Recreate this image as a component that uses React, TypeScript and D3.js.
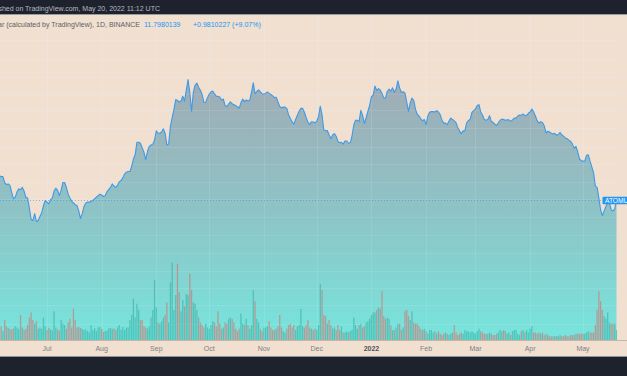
import React from 'react';
import * as d3 from 'd3';

// ---------- data ----------
const startDate = new Date(2021, 5, 3); // first daily bar (June 3, 2021)

const closes: number[] = [
  15.0, 15.2, 15.1, 15.1, 14.2, 13.9, 14.0, 13.8, 12.8, 12.0,
  12.2, 12.9, 13.3, 13.2, 13.5, 13.0, 12.2, 12.1, 10.9, 9.7,
  9.6, 10.3, 9.5, 9.6, 10.0, 10.4, 11.2, 11.8, 11.6, 11.4,
  11.9, 12.1, 13.0, 13.4, 13.1, 12.4, 13.1, 14.2, 14.2, 13.5,
  12.6, 12.1, 11.7, 11.5, 11.3, 11.2, 10.6, 9.8, 10.3, 11.1,
  11.5, 11.6, 11.6, 11.7, 11.8, 12.0, 12.2, 12.4, 12.6, 12.5,
  12.3, 12.4, 12.9, 13.2, 13.5, 14.0, 13.7, 13.5, 13.8, 14.3,
  14.5, 14.9, 15.5, 15.8, 15.9, 15.9, 16.7, 18.1, 18.9, 21.5,
  21.5, 21.3, 20.3, 19.4, 18.0, 19.6, 20.6, 20.9, 21.1, 22.0,
  24.2, 23.6, 23.6, 23.9, 24.7, 23.6, 20.9, 21.1, 25.4, 27.7,
  30.2, 33.4, 33.1, 32.6, 32.9, 34.6, 32.9, 36.8, 41.1, 35.8,
  29.6, 36.1, 38.8, 39.6, 37.9, 36.8, 35.2, 32.4, 32.5, 34.0,
  35.3, 36.2, 36.5, 35.4, 34.6, 34.5, 34.3, 33.2, 33.6, 31.4,
  31.1, 31.9, 32.6, 32.0, 31.7, 31.4, 31.0, 30.6, 32.3, 33.6,
  32.7, 33.3, 32.9, 33.2, 36.1, 39.7, 35.4, 36.3, 36.9, 36.2,
  35.4, 35.4, 35.6, 36.1, 35.6, 35.2, 34.7, 34.1, 34.2, 32.6,
  31.1, 30.7, 30.9, 30.9, 30.5, 28.6, 27.5, 26.6, 25.9, 27.2,
  28.4, 29.6, 30.5, 30.5, 29.3, 27.7, 26.5, 25.8, 26.6, 26.5,
  26.3, 26.7, 28.0, 31.2, 28.5, 24.4, 24.2, 24.3, 23.2, 22.3,
  23.2, 23.5, 22.9, 21.7, 21.4, 21.5, 21.1, 21.8, 21.8, 21.3,
  21.4, 23.0, 25.7, 27.0, 27.0, 26.6, 29.9, 28.4, 26.1, 27.7,
  29.6, 31.5, 34.4, 35.0, 38.4, 36.7, 37.4, 36.9, 35.6, 34.0,
  33.9, 36.4, 37.2, 36.4, 37.7, 36.0, 37.2, 40.5, 37.7, 36.0,
  36.2, 35.8, 32.6, 29.6, 32.3, 33.9, 33.1, 30.2, 28.7, 28.2,
  27.4, 26.8, 27.2, 25.8, 28.2, 29.3, 29.5, 29.5, 29.4, 29.8,
  29.4, 28.6, 27.0, 26.2, 26.2, 25.8, 26.8, 27.6, 27.2, 26.8,
  26.3, 25.0, 24.2, 23.5, 24.2, 24.2, 26.3, 26.9, 27.2, 29.3,
  29.8, 30.3, 31.4, 31.7, 29.4, 28.5, 27.2, 27.0, 27.2, 28.3,
  26.7, 26.4, 25.9, 25.6, 26.3, 27.0, 27.3, 27.2, 27.0, 27.1,
  27.1, 26.7, 27.1, 27.6, 27.6, 28.2, 28.5, 28.4, 28.8, 28.3,
  28.4, 29.0, 29.4, 30.3, 29.4, 28.2, 26.9, 26.2, 26.6, 26.4,
  25.5, 23.7, 24.1, 23.9, 23.6, 23.4, 23.6, 23.1, 23.3, 23.8,
  23.2, 22.9, 22.5, 22.3, 22.0, 21.7, 21.1, 20.2, 20.6, 19.5,
  18.1, 17.8, 17.7, 17.7, 18.8, 18.9, 17.7, 16.7, 15.7, 13.7,
  13.5, 12.1, 10.7, 10.1, 10.6, 11.1, 11.5, 11.5, 10.7, 10.6,
  10.82, 11.798,
];

// daily volume, millions
const volumes: number[] = [
  5.2, 4.0, 5.5, 3.6, 8.0, 5.5, 4.8, 4.4, 4.2, 4.6,
  5.5, 5.0, 4.4, 10.0, 5.0, 4.0, 4.5, 6.0, 9.0, 11.0,
  8.0, 6.5, 7.5, 4.5, 5.0, 4.5, 9.0, 5.5, 4.0, 4.8,
  4.3, 3.8, 11.5, 5.0, 4.2, 3.8, 8.0, 6.5, 6.0, 4.5,
  7.0, 8.5, 5.0, 12.5, 8.0, 5.0, 5.2, 4.8, 4.4, 4.0,
  4.2, 3.6, 3.0, 6.0, 4.0, 4.8, 3.6, 5.0, 5.2, 4.4,
  3.2, 3.6, 3.8, 4.6, 4.8, 4.4, 4.6, 4.0, 5.0, 6.0,
  4.2, 5.2, 4.0, 5.0, 5.0, 8.0, 10.0, 16.5, 9.0, 14.5,
  12.0, 8.0, 8.0, 5.5, 5.0, 4.6, 5.5, 9.0, 12.0, 24.0,
  13.0, 7.0, 6.5, 7.5, 9.0, 10.0, 15.0, 7.0, 23.0, 31.0,
  12.0, 18.0, 30.5, 19.0, 11.5, 16.0, 13.5, 18.5, 18.0, 26.5,
  20.0, 15.0, 14.5, 12.0, 9.0, 7.0, 6.0, 5.0, 6.5, 5.0,
  4.5, 6.0, 7.5, 7.0, 5.5, 11.5, 6.5, 4.5, 5.0, 7.0,
  6.5, 8.5, 9.0, 8.5, 7.0, 4.5, 3.5, 4.5, 10.5, 6.5,
  6.0, 8.5, 6.0, 4.5, 6.0, 20.0, 15.5, 8.5, 7.0, 4.5,
  3.5, 5.0, 5.0, 5.5, 7.5, 5.0, 4.0, 4.0, 4.5, 5.5,
  10.0, 5.0, 3.5, 3.0, 4.5, 6.0, 6.5, 5.0, 6.0, 4.0,
  5.5, 6.0, 12.5, 5.5, 5.0, 6.0, 8.0, 5.0, 4.5, 4.0,
  4.5, 4.0, 6.0, 22.5, 20.0, 10.0, 9.5, 6.5, 8.0, 6.0,
  4.5, 5.0, 4.0, 6.0, 4.0, 5.5, 3.0, 3.0, 3.5, 3.0,
  3.5, 4.0, 9.0, 6.0, 4.5, 6.0, 6.5, 5.0, 5.5, 7.0,
  7.5, 8.5, 10.0, 11.0, 11.0, 12.0, 13.0, 12.5, 19.5, 9.5,
  8.5, 9.0, 8.5, 6.0, 4.0, 4.0, 5.0, 6.5, 6.5, 4.0,
  5.0, 11.5, 12.0, 9.5, 8.0, 11.5, 7.0, 6.5, 6.5, 5.5,
  4.5, 4.0, 4.5, 3.5, 2.5, 4.0, 4.0, 3.0, 3.5, 2.5,
  3.5, 2.5, 2.0, 2.5, 3.0, 2.5, 2.0, 2.5, 3.0, 6.0,
  3.0, 2.0, 2.5, 3.0, 2.5, 4.0, 3.5, 3.5, 3.0, 3.5,
  3.0, 2.5, 3.5, 4.5, 3.5, 3.0, 2.5, 2.5, 2.5, 3.0,
  2.5, 2.0, 2.0, 2.5, 3.0, 4.0, 3.5, 4.0, 3.5, 2.5,
  3.0, 2.0, 3.5, 4.0, 4.0, 2.5, 2.0, 3.5, 4.0, 3.0,
  4.0, 3.0, 4.5, 5.5, 3.0, 3.0, 2.5, 3.0, 2.5, 3.0,
  2.0, 2.5, 2.0, 1.5, 1.5, 1.5, 1.5, 1.5, 1.5, 2.0,
  1.5, 1.5, 2.0, 1.5, 1.5, 2.0, 2.0, 2.0, 2.5, 2.5,
  2.5, 2.5, 2.5, 2.5, 3.0, 3.5, 3.0, 3.0, 3.0, 6.0,
  12.0, 19.5, 15.5, 12.0, 9.5, 8.5, 11.0, 7.0, 6.5, 6.5,
  6.5, 4.0,
];

const monthTicks: Date[] = [
  new Date(2021, 6, 1), new Date(2021, 7, 1), new Date(2021, 8, 1), new Date(2021, 9, 1),
  new Date(2021, 10, 1), new Date(2021, 11, 1), new Date(2022, 0, 1), new Date(2022, 1, 1),
  new Date(2022, 2, 1), new Date(2022, 3, 1), new Date(2022, 4, 1),
];
const monthLabels: string[] = ['Jul', 'Aug', 'Sep', 'Oct', 'Nov', 'Dec', '2022', 'Feb', 'Mar', 'Apr', 'May'];
const priceGrid: number[] = [62, 51, 42, 35.5, 30, 25, 20.5, 17.2, 14.3, 12, 10, 8.3, 6.9, 5.7, 4.8, 4.0, 3.3];

const publishedText = 'Published on TradingView.com, May 20, 2022 11:12 UTC';
const titleText = 'Cosmos / U.S. Dollar (calculated by TradingView), 1D, BINANCE';
const lastText = '11.7980139';
const changeText = '+0.9810227 (+9.07%)';
const symbolText = 'ATOMUSD';

// ---------- layout ----------
const W = 627;
const H = 376;
const paneTop = 15;
const paneBottom = 340;
const paneRight = 617;
const axisBottom = 356;
const FONT = '"Liberation Sans", Arial, sans-serif';

export default function App() {
  const dayMs = 86400000;
  const dates = closes.map((_, i) => new Date(startDate.getTime() + i * dayMs));

  const x = d3.scaleTime()
    .domain([new Date(2021, 6, 1), new Date(2022, 4, 1)])
    .range([47, 583]);
  const y = d3.scaleLog().domain([2.8, 79.9]).range([paneBottom, paneTop]);
  const v = d3.scaleLinear().domain([0, 40]).range([paneBottom, paneBottom - 100]);

  const idx = d3.range(closes.length);
  const area = d3.area<number>()
    .x((i) => x(dates[i]))
    .y0(paneBottom)
    .y1((i) => y(closes[i]));
  const line = d3.line<number>()
    .x((i) => x(dates[i]))
    .y((i) => y(closes[i]));

  const lastY = y(closes[closes.length - 1]);
  const barW = 1.25;

  return (
    <svg width={W} height={H} viewBox={`0 0 ${W} ${H}`}
      style={{ position: 'absolute', left: 0, top: 0, display: 'block' }}
      fontFamily={FONT}>
      <defs>
        <linearGradient id="areaGrad" gradientUnits="userSpaceOnUse" x1="0" y1={y(41)} x2="0" y2={paneBottom}>
          <stop offset="0" stopColor="#a0abb4" />
          <stop offset="0.55" stopColor="#8cc6c8" />
          <stop offset="1" stopColor="#77e5dd" />
        </linearGradient>
        <clipPath id="paneClip">
          <rect x={0} y={paneTop} width={paneRight} height={paneBottom - paneTop} />
        </clipPath>
      </defs>

      {/* background */}
      <rect x={0} y={0} width={W} height={H} fill="#f1dfcf" />

      {/* grid (under series) */}
      <g stroke="#eae1da" strokeWidth={1}>
        {monthTicks.map((d, i) => (
          <line key={'vg' + i} x1={Math.round(x(d)) + 0.5} x2={Math.round(x(d)) + 0.5} y1={paneTop} y2={paneBottom} />
        ))}
        {priceGrid.filter((p) => y(p) > paneTop + 1 && y(p) < paneBottom - 1).map((p, i) => (
          <line key={'hg' + i} x1={0} x2={W} y1={Math.round(y(p)) + 0.5} y2={Math.round(y(p)) + 0.5} />
        ))}
      </g>

      <g clipPath="url(#paneClip)">
        <path d={area(idx) || ''} fill="url(#areaGrad)" />
        {/* faint grid over area */}
        <g stroke="#ffffff" strokeOpacity={0.1} strokeWidth={1}>
          {monthTicks.map((d, i) => (
            <line key={'vg2' + i} x1={Math.round(x(d)) + 0.5} x2={Math.round(x(d)) + 0.5} y1={paneTop} y2={paneBottom} />
          ))}
          {priceGrid.map((p, i) => (
            <line key={'hg2' + i} x1={0} x2={paneRight} y1={Math.round(y(p)) + 0.5} y2={Math.round(y(p)) + 0.5} />
          ))}
        </g>
        {/* volume */}
        {idx.map((i) => {
          const up = i === 0 || closes[i] >= closes[i - 1];
          const top = v(volumes[i]);
          return (
            <rect key={'v' + i} x={x(dates[i]) - barW / 2} y={top} width={barW} height={paneBottom - top}
              fill={up ? '#26a69a' : '#ef5350'} fillOpacity={0.5} />
          );
        })}
        <path d={line(idx) || ''} fill="none" stroke="#3d9ae8" strokeWidth={1.1} strokeLinejoin="round" />
        {/* last price line */}
        <line x1={0} x2={paneRight} y1={lastY} y2={lastY} stroke="#2196f3" strokeOpacity={0.55}
          strokeWidth={1} strokeDasharray="1,2" />
      </g>

      {/* last price label */}
      <rect x={602.5} y={lastY - 3.8} width={30} height={7.6} fill="#2196f3" rx={1} />
      <text x={605} y={lastY + 2.5} fontSize={6.6} fill="#ffffff">{symbolText}</text>

      {/* time axis */}
      <line x1={0} x2={W} y1={paneBottom + 0.5} y2={paneBottom + 0.5} stroke="#c2b6ac" strokeWidth={1} />
      {monthTicks.map((d, i) => (
        <text key={'ml' + i} x={x(d)} y={351} textAnchor="middle" fontSize={7}
          fontWeight={monthLabels[i] === '2022' ? 'bold' : 'normal'}
          fill={monthLabels[i] === '2022' ? '#50535e' : '#7c7f88'}>
          {monthLabels[i]}
        </text>
      ))}

      {/* footer */}
      <rect x={0} y={axisBottom} width={W} height={H - axisBottom} fill="#1e222d" />
      <line x1={0} x2={W} y1={axisBottom + 0.5} y2={axisBottom + 0.5} stroke="#8f9098" strokeWidth={1} />

      {/* header */}
      <rect x={0} y={0} width={W} height={paneTop} fill="#1e222d" />
      <line x1={0} x2={W} y1={paneTop - 0.5} y2={paneTop - 0.5} stroke="#9a9ca3" strokeWidth={1} />
      <text x={160} y={10.5} textAnchor="end" fontSize={7} fill="#b8bac2">{publishedText}</text>
      <text x={140} y={26.5} textAnchor="end" fontSize={7} fill="#5d606b">{titleText}</text>
      <text x={144} y={26.5} fontSize={7} fill="#2196f3">{lastText}</text>
      <text x={193} y={26.5} fontSize={7} fill="#2196f3">{changeText}</text>
    </svg>
  );
}
